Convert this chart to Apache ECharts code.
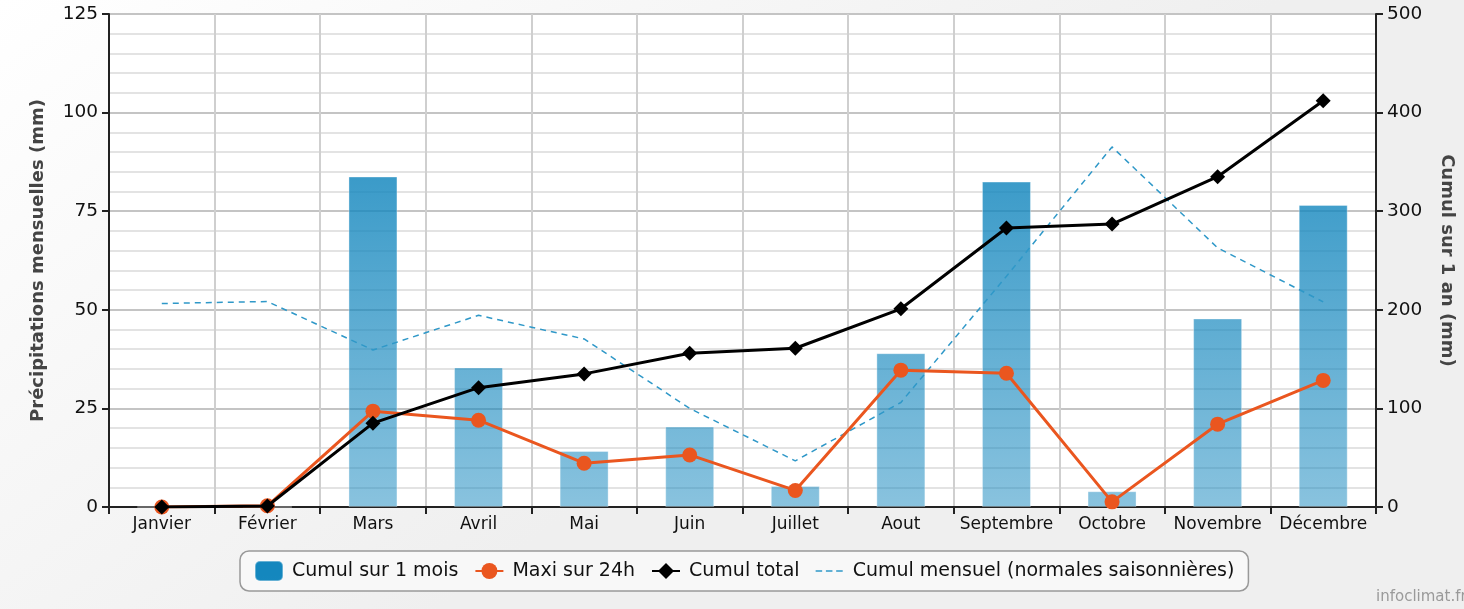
<!DOCTYPE html>
<html>
<head>
<meta charset="utf-8">
<script src="https://cdn.jsdelivr.net/npm/echarts@6/dist/echarts.min.js"></script>
<style>
html,body{margin:0;padding:0;background:#fff;overflow:hidden;}
#chart{width:1464px;height:609px;}
</style>
</head>
<body>
<div id="chart"></div>
<script>
const months = ['Janvier','Février','Mars','Avril','Mai','Juin','Juillet','Aout','Septembre','Octobre','Novembre','Décembre'];
const cumulMois = [0, 0, 83.8, 35.4, 14.2, 20.4, 5.3, 39.0, 82.5, 4.0, 47.8, 76.6];
const maxi24h = [0, 0.3, 24.3, 22.0, 11.1, 13.2, 4.2, 34.7, 33.9, 1.3, 21.0, 32.1];
const cumulTotal = [0, 1, 85, 121, 135, 156, 161, 201, 283, 287, 335, 412];
const normales = [51.6, 52.1, 39.8, 48.6, 42.6, 25.0, 11.7, 26.5, 58.5, 91.3, 65.7, 52.0];
const leftTicks = [0, 25, 50, 75, 100, 125];
const rightTicks = [0, 100, 200, 300, 400, 500];

const FONT = 'DejaVu Sans';
const dashIcon = 'path://M0,0L0,0.001Z M0,9.2h7v1.6h-7z M11,9.2h7v1.6h-7z M22,9.2h7v1.6h-7z M30,20L30,20.001Z';
const chart = echarts.init(document.getElementById('chart'));
chart.setOption({
  backgroundColor: 'transparent',
  animation: false,
  graphic: [
    {type:'rect', z:-10, shape:{x:0,y:0,width:1464,height:609},
     style:{fill:{type:'linear',x:0,y:0,x2:0.3,y2:1,colorStops:[{offset:0,color:'#ffffff'},{offset:1,color:'#efefef'}]}}},
    {type:'text', left: 1376, top: 590, style:{text:'infoclimat.fr', fill:'#9a9a9a', font:'15px "DejaVu Sans"'}}
  ],
  grid: {left:109, top:14, width:1274, height:493, show:true, backgroundColor:'#ffffff', borderWidth:0},
  legend: {
    bottom: 18, left: 240,
    data: [
      {name:'Cumul sur 1 mois'},
      {name:'Maxi sur 24h'},
      {name:'Cumul total'},
      {name:'Cumul mensuel (normales saisonnières)', icon: dashIcon}
    ],
    backgroundColor: '#f8f8f8', borderColor:'#999', borderWidth:1.5, borderRadius:9,
    padding:[9,14,9,14], itemGap:16, itemWidth:28, itemHeight:20,
    textStyle:{fontFamily:FONT, fontSize:19, color:'#111', padding:[0,0,0,4]}
  },
  xAxis: {
    type:'category', data: months,
    axisLine:{lineStyle:{color:'#222', width:2}},
    axisTick:{show:true, interval:0, length:7, lineStyle:{color:'#222', width:2}},
    axisLabel:{fontFamily:FONT, fontSize:17, color:'#111', margin:9, interval:0},
    splitLine:{show:true, interval:0, lineStyle:{color:'#cfcfcf', width:2}}
  },
  yAxis: [
    {type:'value', min:0, max:125, interval:25,
     name:'Précipitations mensuelles (mm)', nameLocation:'middle', nameGap:62,
     nameTextStyle:{fontFamily:FONT, fontSize:18, fontWeight:'bold', color:'#444'},
     axisLine:{show:true, lineStyle:{color:'#222', width:2}},
     axisTick:{show:true, length:7, lineStyle:{color:'#222', width:2}},
     axisLabel:{fontFamily:FONT, fontSize:18.5, color:'#111', margin:11,
       formatter: v => leftTicks.includes(v) ? String(v) : ''},
     splitLine:{lineStyle:{color:'#c4c4c4', width:2}},
     minorTick:{show:false, splitNumber:5},
     minorSplitLine:{show:true, lineStyle:{color:'#e3e3e3', width:2}}
    },
    {type:'value', min:0, max:500, interval:100, position:'right',
     name:'Cumul sur 1 an (mm)', nameLocation:'middle', nameGap:62, nameRotate:-90,
     nameTextStyle:{fontFamily:FONT, fontSize:18, fontWeight:'bold', color:'#444'},
     axisLine:{show:true, lineStyle:{color:'#222', width:2}},
     axisTick:{show:true, length:7, lineStyle:{color:'#222', width:2}},
     axisLabel:{fontFamily:FONT, fontSize:18.5, color:'#111', margin:11,
       formatter: v => rightTicks.includes(v) ? String(v) : ''},
     splitLine:{show:false}
    }
  ],
  series: [
    {name:'Cumul sur 1 mois', type:'bar', yAxisIndex:0, data:cumulMois, barWidth:49, z:2,
     itemStyle:{color:{type:'linear', x:0, y:14, x2:0, y2:507, global:true,
       colorStops:[{offset:0,color:'rgba(20,135,190,1)'},{offset:1,color:'rgba(20,135,190,0.5)'}]},
       borderColor:'rgba(255,255,255,0.35)', borderWidth:1}},
    {name:'Maxi sur 24h', type:'line', yAxisIndex:0, data:maxi24h, z:4,
     symbol:'circle', symbolSize:15,
     lineStyle:{color:'#ea561f', width:3}, itemStyle:{color:'#ea561f'}},
    {name:'Cumul total', type:'line', yAxisIndex:1, data:cumulTotal, z:5,
     symbol:'diamond', symbolSize:15,
     lineStyle:{color:'#000', width:3}, itemStyle:{color:'#000'}},
    {name:'Cumul mensuel (normales saisonnières)', type:'line', yAxisIndex:0, data:normales, z:3,
     symbol:'none',
     lineStyle:{color:'#2f98c8', width:1.5, type:[6,5]}, itemStyle:{color:'#2f98c8'}}
  ]
});
</script>
</body>
</html>
